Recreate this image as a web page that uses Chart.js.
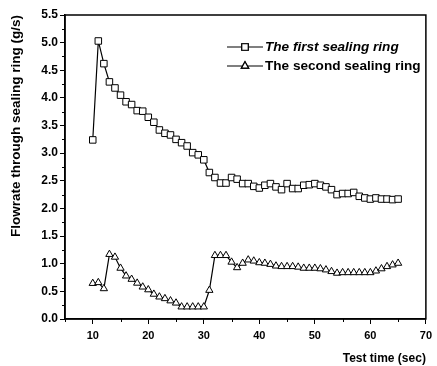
<!DOCTYPE html>
<html>
<head>
<meta charset="utf-8">
<script src="https://cdn.jsdelivr.net/npm/chart.js@4.4.0/dist/chart.umd.min.js"></script>
<style>
	body { margin: 0; background: #fff; }
	#wrap { width: 437px; height: 366px; }
</style>
</head>
<body>
<div id="wrap"><canvas id="myChart" width="437" height="366"></canvas></div>
<script>
const testTime = [
	10, 11, 12, 13, 14, 15, 16, 17, 18, 19, 20, 21, 22, 23, 24, 25, 26, 27, 28, 29,
	30, 31, 32, 33, 34, 35, 36, 37, 38, 39, 40, 41, 42, 43, 44, 45, 46, 47, 48, 49,
	50, 51, 52, 53, 54, 55, 56, 57, 58, 59, 60, 61, 62, 63, 64, 65,
];
const firstRing = [
	3.24, 5.03, 4.62, 4.29, 4.18, 4.05, 3.93, 3.88, 3.77, 3.76, 3.65, 3.56, 3.42, 3.36,
	3.33, 3.25, 3.19, 3.13, 3.01, 2.97, 2.88, 2.65, 2.56, 2.46, 2.46, 2.56, 2.53, 2.45,
	2.45, 2.40, 2.37, 2.42, 2.45, 2.39, 2.34, 2.45, 2.36, 2.36, 2.42, 2.43, 2.45, 2.42,
	2.39, 2.34, 2.25, 2.27, 2.27, 2.29, 2.22, 2.19, 2.17, 2.19, 2.17, 2.17, 2.16, 2.17,
];
const secondRing = [
	0.645, 0.66, 0.55, 1.17, 1.12, 0.92, 0.78, 0.72, 0.65, 0.58, 0.53, 0.45, 0.40, 0.37,
	0.33, 0.29, 0.22, 0.22, 0.22, 0.22, 0.22, 0.52, 1.15, 1.15, 1.15, 1.03, 0.93, 1.01,
	1.07, 1.05, 1.02, 1.01, 0.99, 0.96, 0.95, 0.95, 0.95, 0.94, 0.92, 0.92, 0.92, 0.91,
	0.89, 0.86, 0.83, 0.84, 0.84, 0.84, 0.84, 0.84, 0.84, 0.87, 0.91, 0.95, 0.98, 1.01,
];
const seriesLabels = ["The first sealing ring", "The second sealing ring"];
const xTicks = [10, 20, 30, 40, 50, 60, 70];
const xMinorTicks = [5, 15, 25, 35, 45, 55, 65];
const yTicks = [0, 0.5, 1, 1.5, 2, 2.5, 3, 3.5, 4, 4.5, 5, 5.5];
const xTitle = "Test time (sec)";
const yTitle = "Flowrate through sealing ring (g/s)";

const FONT = "'Liberation Sans', Arial, sans-serif";

const toPoints = (ys) => testTime.map((t, i) => ({ x: t, y: ys[i] }));

// frame, minor ticks and the line-marker-line legend
const extras = {
	id: "extras",
	afterDraw(chart) {
		const { ctx, chartArea: a, scales } = chart;
		ctx.save();
		ctx.strokeStyle = "#000";
		ctx.lineWidth = 1.5;
		ctx.strokeRect(a.left, a.top, a.right - a.left, a.bottom - a.top);

		ctx.lineWidth = 1;
		ctx.beginPath();
		xMinorTicks.forEach((v) => {
			const px = Math.round(scales.x.getPixelForValue(v)) + 0.5;
			ctx.moveTo(px, a.bottom);
			ctx.lineTo(px, a.bottom + 3);
		});
		for (let i = 0; i < yTicks.length - 1; i++) {
			const py = Math.round(scales.y.getPixelForValue((yTicks[i] + yTicks[i + 1]) / 2)) + 0.5;
			ctx.moveTo(a.left, py);
			ctx.lineTo(a.left - 3, py);
		}
		ctx.stroke();

		const styles = ["rect", "triangle"];
		const radius = [4.6, 4.2];
		chart.data.datasets.forEach((ds, i) => {
			const y = a.top + 32 + i * 19;
			const x0 = a.left + 162;
			ctx.strokeStyle = "#000";
			ctx.lineWidth = 1.2;
			ctx.beginPath();
			ctx.moveTo(x0, y);
			ctx.lineTo(x0 + 36, y);
			ctx.stroke();
			ctx.fillStyle = "#fff";
			Chart.helpers.drawPoint(ctx, { pointStyle: styles[i], radius: radius[i], borderWidth: 1 }, x0 + 18, y);
			ctx.fill();
			ctx.stroke();
			ctx.fillStyle = "#000";
			ctx.font = (i === 0 ? "italic bold " : "bold ") + "13.6px " + FONT;
			ctx.textBaseline = "middle";
			ctx.textAlign = "left";
			ctx.fillText(ds.label, x0 + 38, y);
		});
		ctx.restore();
	},
};

new Chart(document.getElementById("myChart"), {
	type: "line",
	data: {
		datasets: [
			{
				label: seriesLabels[0],
				data: toPoints(firstRing),
				borderColor: "#000",
				borderWidth: 1.2,
				pointStyle: "rect",
				pointRadius: 4.6,
				pointBorderWidth: 1,
				pointBorderColor: "#000",
				pointBackgroundColor: "#fff",
				tension: 0,
			},
			{
				label: seriesLabels[1],
				data: toPoints(secondRing),
				borderColor: "#000",
				borderWidth: 1.2,
				pointStyle: "triangle",
				pointRadius: 4.2,
				pointBorderWidth: 1,
				pointBorderColor: "#000",
				pointBackgroundColor: "#fff",
				tension: 0,
			},
		],
	},
	options: {
		responsive: false,
		animation: false,
		layout: { padding: { left: 8, right: 5, top: 15, bottom: 0 } },
		plugins: {
			legend: { display: false },
			tooltip: { enabled: false },
		},
		scales: {
			x: {
				type: "linear",
				min: 5,
				max: 70,
				afterBuildTicks: (scale) => {
					scale.ticks = xTicks.map((v) => ({ value: v }));
				},
				afterFit: (scale) => {
					scale.height = 47;
				},
				grid: { drawOnChartArea: false, tickLength: 5, tickColor: "#000", tickWidth: 1 },
				border: { display: true, color: "#000", width: 1.5 },
				ticks: {
					color: "#000",
					padding: 5,
					maxRotation: 0,
					font: { family: FONT, size: 11, weight: "bold" },
				},
				title: {
					display: true,
					text: xTitle,
					align: "end",
					color: "#000",
					padding: 0,
					font: { family: FONT, size: 12, weight: "bold" },
				},
			},
			y: {
				min: 0,
				max: 5.5,
				afterBuildTicks: (scale) => {
					scale.ticks = yTicks.map((v) => ({ value: v }));
				},
				afterFit: (scale) => {
					scale.width = 57;
				},
				grid: { drawOnChartArea: false, tickLength: 5, tickColor: "#000", tickWidth: 1 },
				border: { display: true, color: "#000", width: 1.5 },
				ticks: {
					color: "#000",
					padding: 2,
					font: { family: FONT, size: 12, weight: "bold" },
					callback: (v) => Number(v).toFixed(1),
				},
				title: {
					display: true,
					text: yTitle,
					align: "end",
					color: "#000",
					padding: 0,
					font: { family: FONT, size: 13.5, weight: "bold" },
				},
			},
		},
	},
	plugins: [extras],
});
</script>
</body>
</html>
